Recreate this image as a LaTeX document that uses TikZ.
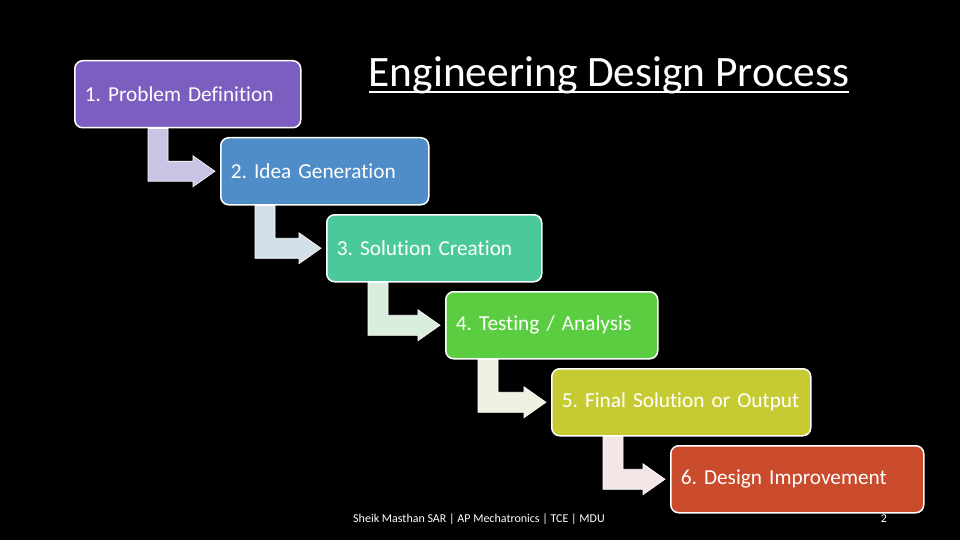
\documentclass[tikz,border=0pt]{standalone}
\usepackage{fontspec}
\setmainfont{Carlito}[Ligatures=NoCommon]
\usetikzlibrary{positioning,calc}
\definecolor{probcol}{HTML}{7B5EC0}
\definecolor{ideacol}{HTML}{4E8DC7}
\definecolor{solcol}{HTML}{4CC99B}
\definecolor{testcol}{HTML}{5ACD40}
\definecolor{finalcol}{HTML}{C7CB33}
\definecolor{improvecol}{HTML}{C94B2C}
\definecolor{arrA}{HTML}{CBC3E4}
\definecolor{arrB}{HTML}{D1E1E7}
\definecolor{arrC}{HTML}{D9EEDC}
\definecolor{arrD}{HTML}{EFF1E1}
\definecolor{arrE}{HTML}{F3E6E5}
\tikzset{
  stepbox/.style ={draw=white,line width=1.5pt,rounded corners=8pt,text=white,align=left,anchor=north west,
                   minimum height=67pt,inner xsep=10pt,font=\fontsize{21.3}{25}\selectfont\frenchspacing},
  flowarrow/.style ={draw=white,line width=0.6pt},
  title/.style   ={text=white,inner sep=0pt,anchor=base,font=\fontsize{43.4}{48}\selectfont},
  footer/.style  ={text=white,inner sep=0pt,font=\fontsize{12}{14}\selectfont\frenchspacing}
}
% bent arrow: from, to, bar offset, fill
\newcommand{\bentarrow}[4]{%
  \path[flowarrow,fill=#4] let \p1=(#1.south west), \p2=(#2.west) in
    (\x1+#3,\y1) -- ++(20pt,0) |- (\x2-27pt,\y2+10pt) -- ++(0,5.5pt) -- (\x2-5pt,\y2)
    -- (\x2-27pt,\y2-15.5pt) -- ++(0,5.5pt) -- (\x1+#3,\y2-10pt) -- cycle;}

\begin{document}
\frenchspacing
\begin{tikzpicture}[x=1pt,y=1pt]
    \fill[black] (0,0) rectangle (960,-540);
    \useasboundingbox (0,0) rectangle (960,-540);
    \node[stepbox,fill=probcol,text width=206pt] (prob) at (74,-60) {1. Problem Definition};
    \node[stepbox,fill=ideacol,text width=188pt,below right=8.5pt and -81.5pt of prob]     (idea)    {2. Idea Generation};
    \node[stepbox,fill=solcol,text width=195pt,below right=8.5pt and -103.5pt of idea]    (sol)     {3. Solution Creation};
    \node[stepbox,fill=testcol,text width=192pt,below right=8.5pt and -97.5pt of sol]     (test)    {4. Testing / Analysis};
    \node[stepbox,fill=finalcol,text width=239pt,below right=8.5pt and -107.5pt of test]  (final)   {5. Final Solution or Output};
    \node[stepbox,fill=improvecol,text width=233pt,below right=8.5pt and -141.5pt of final] (improve) {6. Design Improvement};
    \node[title] (title) at (609,-87) {Engineering Design Process};
    \draw[white,line width=2.5pt] ([yshift=-5pt]title.base west) -- ([yshift=-5pt]title.base east);
    \node[footer] (credit) at (479,-519) {Sheik Masthan SAR | AP Mechatronics | TCE | MDU};
    \node[footer] (pageno) at (884,-519) {2};
    \bentarrow{prob}{idea}{74pt}{arrA}
    \bentarrow{idea}{sol}{35pt}{arrB}
    \bentarrow{sol}{test}{42pt}{arrC}
    \bentarrow{test}{final}{33pt}{arrD}
    \bentarrow{final}{improve}{52pt}{arrE}
  \end{tikzpicture}
\end{document}
